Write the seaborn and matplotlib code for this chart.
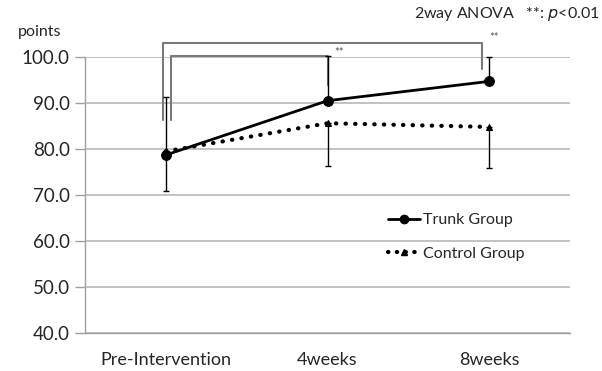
import matplotlib
matplotlib.use("Agg")
import matplotlib.pyplot as plt
import seaborn as sns
import pandas as pd
from matplotlib.lines import Line2D

categories = ["Pre-Intervention", "4weeks", "8weeks"]
trunk = [78.7, 90.5, 94.7]
trunk_err_up = [12.6, 9.7, 5.2]
control = [79.5, 85.6, 84.8]
control_err_down = [8.6, 9.3, 8.9]
yticks = [40.0, 50.0, 60.0, 70.0, 80.0, 90.0, 100.0]

sns.set_theme(style="white")
plt.rcParams['font.family'] = ['Lato', 'DejaVu Sans']

df = pd.DataFrame({
    "time": categories * 2,
    "score": trunk + control,
    "group": ["Trunk Group"] * 3 + ["Control Group"] * 3,
})

fig = plt.figure(figsize=(6.02, 3.71), dpi=100)
ax = fig.add_axes([85 / 602, 1 - 333 / 371, (570 - 85) / 602, (333 - 57) / 371])

# gridlines
for v in yticks:
    ax.axhline(v, color="#b8b8b8", lw=1.2, zorder=0)

x = list(range(len(categories)))
# error bars
ax.errorbar(x, trunk, yerr=[[0] * 3, trunk_err_up], fmt="none", ecolor="black",
            elinewidth=1.0, capsize=2.5, capthick=1.0, zorder=3, clip_on=False)
ax.errorbar(x, control, yerr=[control_err_down, [0] * 3], fmt="none", ecolor="black",
            elinewidth=1.0, capsize=2.5, capthick=1.0, zorder=3, clip_on=False)

sns.lineplot(data=df, x="time", y="score", hue="group", style="group",
             markers={"Trunk Group": "o", "Control Group": "^"},
             dashes={"Trunk Group": "", "Control Group": (0.1, 2.2)},
             palette={"Trunk Group": "black", "Control Group": "black"},
             markersize=7, linewidth=2.0, ax=ax, legend=False, sort=False, zorder=4,
             markeredgecolor="black", markeredgewidth=0.8)
for ln in ax.lines[-2:]:
    ln.set_dash_capstyle("round")
    ln.set_clip_on(False)
ctrl_line = ax.lines[-1]
ctrl_line.set_linewidth(3.0)
ctrl_line.set_markersize(5)

ax.set_xlim(-0.5, 2.5)
ax.set_ylim(40, 100)
ax.set_yticks(yticks)
ax.set_yticklabels([f"{v:.1f}" for v in yticks], fontsize=13.5)
ax.set_xticks(x)
ax.set_xticklabels(categories, fontsize=13)
ax.set_xlabel("")
ax.set_ylabel("")

# category boundary ticks
ax.tick_params(axis="x", which="major", length=0, pad=14)
ax.set_xticks([-0.5, 0.5, 1.5, 2.5], minor=True)
ax.tick_params(axis="x", which="minor", length=5, color="#a0a0a0", width=1)
ax.tick_params(axis="y", length=7, color="#a0a0a0", width=1, pad=4, direction="out", left=True)

for s in ["top", "right"]:
    ax.spines[s].set_visible(False)
for s in ["left", "bottom"]:
    ax.spines[s].set_color("#a0a0a0")
    ax.spines[s].set_linewidth(1.0)

# significance brackets
bc = "#7a7a7a"
ax.plot([-0.02, -0.02, 1.955, 1.955], [86.3, 103.0, 103.0, 97.4], color=bc, lw=1.5,
        clip_on=False, zorder=2)
ax.plot([0.035, 0.035, 1.0, 1.0], [86.3, 100.2, 100.2, 93.9], color=bc, lw=1.5,
        clip_on=False, zorder=2)
ax.text(1.07, 101.0, "**", fontsize=8, color="#555555", ha="center", va="center")
ax.text(2.03, 104.3, "**", fontsize=8, color="#555555", ha="center", va="center")

# legend
handles = [
    Line2D([0], [0], color="black", lw=2.0, marker="o", markersize=6),
    Line2D([0], [0], color="black", lw=3.0, linestyle=(0, (0.1, 2.0)),
           dash_capstyle="round", marker="^", markersize=5),
]
leg = ax.legend(handles, ["Trunk Group", "Control Group"], loc="upper left",
                bbox_to_anchor=((380 - 85) / 485, (333 - 205) / 276), frameon=False,
                fontsize=11.5, handlelength=2.0, handletextpad=0.2, labelspacing=1.2,
                borderpad=0)

fig.text(18 / 602, 1 - 32 / 371, "points", fontsize=11.5, va="center", ha="left")
fig.text(600 / 602, 1 - 14 / 371, "2way ANOVA   **: $\\it{p}$<0.01", fontsize=11.5,
         va="center", ha="right")

fig.savefig("out.png", dpi=100)
